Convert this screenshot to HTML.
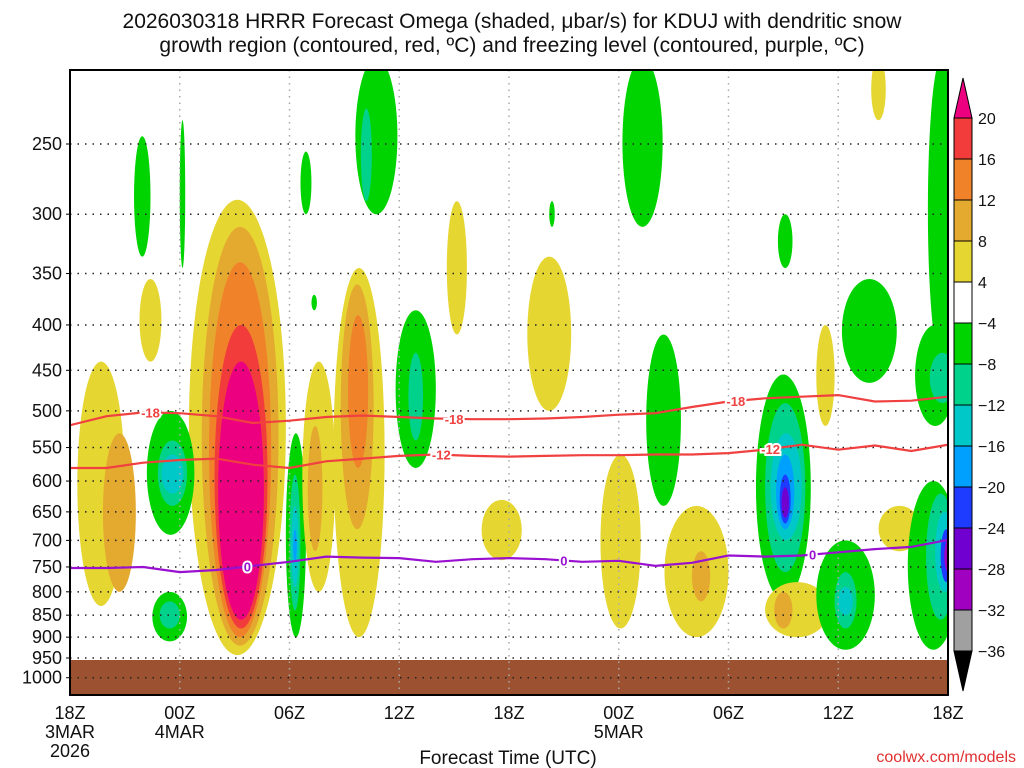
<!DOCTYPE html>
<html><head><meta charset="utf-8">
<style>
body{margin:0;background:#fff;width:1024px;height:768px;overflow:hidden;font-family:"Liberation Sans",sans-serif}
svg{display:block}
</style></head>
<body>
<svg id="chart" width="1024" height="768" xmlns="http://www.w3.org/2000/svg" font-family="Liberation Sans, sans-serif">
<text x="512" y="28" font-size="21" text-anchor="middle" fill="#111">2026030318 HRRR Forecast Omega (shaded, μbar/s) for KDUJ with dendritic snow</text>
<text x="512" y="52" font-size="21" text-anchor="middle" fill="#111">growth region (contoured, red, ºC) and freezing level (contoured, purple, ºC)</text>
<defs><clipPath id="plotclip"><rect x="70" y="70" width="878" height="625"/></clipPath></defs>
<g id="shades" clip-path="url(#plotclip)"></g>
<g id="grid"></g>
<g id="contours" clip-path="url(#plotclip)"></g>
<rect x="70" y="70" width="878" height="625" fill="none" stroke="#000" stroke-width="2"/>
<g id="axes"></g>
<g id="cbar"></g>
<text x="508" y="764" font-size="19" text-anchor="middle" fill="#111">Forecast Time (UTC)</text>
<text x="1016" y="762" font-size="16" text-anchor="end" fill="#e03030">coolwx.com/models</text>
</svg>
<script>
// ---- data ----
const pressureTicks=[250,300,350,400,450,500,550,600,650,700,750,800,850,900,950,1000];
const timeTickHours=[0,6,12,18,24,30,36,42,48];
const timeTickLabels=["18Z","00Z","06Z","12Z","18Z","00Z","06Z","12Z","18Z"];
const dateLabels=[[0,"3MAR"],[0,"2026"],[6,"4MAR"],[30,"5MAR"]];
const cbarLevels=[20,16,12,8,4,-4,-8,-12,-16,-20,-24,-28,-32,-36];
const contourHours=[0,2,4,6,8,10,12,14,16,18,20,22,24,26,28,30,32,34,36,38,40,42,44,46,48];
const tempMinus18=[519,507,502,503,507,516,513,508,506,508,510,511,511,510,508,505,503,495,488,484,482,480,488,487,482];
const tempMinus12=[580,580,572,568,566,575,580,570,566,562,560,562,563,562,561,561,560,560,558,553,546,553,547,555,546];
const freezingLevel=[752,752,750,760,756,748,740,730,732,733,740,735,733,735,740,738,748,742,728,730,728,722,716,712,699];
const labelsMinus18=[4.4,21,36.4];
const labelsMinus12=[20.3,38.3];
const labelsZero=[9.7,27,40.6];
// blobs: start hour, end hour, top pressure, bottom pressure, omega level
const blobH0=[6.5,7.2,7.6,7.9,8.1, 0.4,1.8,3.8,4.2,4.8,5.0,4.5,4.9,3.5,6.0, 11.8,12.0,12.1,12.2, 12.7,14.4,14.8,15.2,13.0, 15.6,15.9,12.6,13.2, 17.8,18.5, 20.6,25.0,22.5,26.2, 30.2,29.0,31.5,32.5,34.0, 37.5,38.0,38.3,38.6,38.8,38.9, 38.7,40.8,38.0,38.5, 40.8,41.8,42.0, 42.2,43.8,44.2, 46.9,45.8,46.8,47.3,47.6,47.8,46.2,47.0];
const blobH1=[11.8,11.4,11.0,10.8,10.6, 3.0,3.6,5.0,6.8,6.4,6.2,6.4,6.0,4.4,6.3, 12.9,12.6,12.5,12.4, 14.5,17.2,16.6,16.3,13.8, 17.9,16.5,13.2,13.5, 20.0,19.3, 21.7,27.4,24.7,26.5, 32.4,31.2,33.4,36.0,35.0, 40.5,40.2,40.0,39.6,39.4,39.3, 39.5,41.8,41.5,39.5, 44.0,43.0,42.8, 45.2,44.6,46.5, 48.4,48.6,48.4,48.3,48.2,48.2,48.4,48.4];
const blobPTop=[289,310,340,400,440, 440,530,355,500,540,560,800,820,245,235, 530,590,640,680, 440,345,360,390,520, 200,228,255,370, 385,430, 290,335,630,290, 200,560,410,640,720, 455,490,530,560,590,610, 300,400,780,800, 700,760,790, 355,200,640, 200,600,620,650,680,700,400,430];
const blobPBot=[943,920,900,880,860, 830,800,440,690,640,620,910,880,335,345, 900,840,790,740, 800,900,680,580,720, 300,290,300,385, 580,540, 410,500,737,310, 310,880,640,900,820, 817,760,700,680,670,660, 345,520,900,880, 930,880,850, 465,235,720, 440,930,860,800,780,760,520,490];
const blobLevel=[4,8,12,16,20, 4,8,4,-4,-8,-12,-4,-8,-4,-4, -4,-8,-12,-16, 4,4,8,12,8, -4,-8,-4,-4, -4,-8, 4,4,4,-4, -4,4,-4,4,8, -4,-8,-12,-16,-20,-24, -4,4,4,8, -4,-8,-12, -4,4,4, -4,-4,-8,-12,-20,-28,-4,-8];

// ---- scales ----
const X0=70,X1=948,Y0=144,PY=385;
const xS=h=>X0+(X1-X0)*h/48;
const yS=p=>Y0+PY*Math.log(p/250);
const colorFor=v=>({20:"#ec0080",16:"#f23c3c",12:"#f0822a",8:"#e4aa30",4:"#e6d632",
 "-4":"#00d400","-8":"#00d28c","-12":"#00c8c8","-16":"#00a0ff","-20":"#1e3cff","-24":"#7000d0","-28":"#a000c0","-32":"#a0a0a0"})[v];
const NS="http://www.w3.org/2000/svg";
function mk(tag,attrs,parent){const e=document.createElementNS(NS,tag);for(const k in attrs)e.setAttribute(k,attrs[k]);parent.appendChild(e);return e;}

// shading
const shades=document.getElementById('shades');
for(let i=0;i<blobH0.length;i++){
  const xa=xS(blobH0[i]),xb=xS(blobH1[i]),ya=yS(blobPTop[i]),yb=yS(blobPBot[i]);
  const e=mk('ellipse',{cx:(xa+xb)/2,cy:(ya+yb)/2,rx:(xb-xa)/2,ry:(yb-ya)/2,fill:colorFor(blobLevel[i])},shades);
  
  
}
// ground
const ground=mk('rect',{x:X0,y:yS(955),width:X1-X0,height:695-yS(955),fill:"#9c5230"},shades);



// grid
const grid=document.getElementById('grid');
pressureTicks.forEach(p=>{
  const l=mk('line',{x1:X0,x2:X1,y1:yS(p),y2:yS(p),stroke:"#222","stroke-width":1.5,"stroke-dasharray":"1.5 6"},grid);
  
  
});
timeTickHours.slice(1,-1).forEach(h=>{
  const l=mk('line',{x1:xS(h),x2:xS(h),y1:70,y2:695,stroke:"#aaa","stroke-width":1.5,"stroke-dasharray":"1.5 5"},grid);
  
  
});

// contours
const cont=document.getElementById('contours');
function drawLine(vals,color,name,labels,txt){
  const d=contourHours.map((h,i)=>(i?'L':'M')+xS(h).toFixed(1)+' '+yS(vals[i]).toFixed(1)).join(' ');
  const p=mk('path',{d:d,fill:"none",stroke:color,"stroke-width":2.2},cont);
  
  
  labels.forEach(h=>{
    let j=0;while(j<contourHours.length-2&&contourHours[j+1]<h)j++;
    const f=(h-contourHours[j])/(contourHours[j+1]-contourHours[j]);
    const pv=vals[j]+(vals[j+1]-vals[j])*f;
    const t=mk('text',{x:xS(h),y:yS(pv)+5,"font-size":13,"font-weight":"bold","text-anchor":"middle",fill:color,stroke:"#fff","stroke-width":4,"paint-order":"stroke"},cont);
    t.textContent=txt;
    
    
  });
}
drawLine(tempMinus18,"#f04040","contour-minus18",labelsMinus18,"-18");
drawLine(tempMinus12,"#f04040","contour-minus12",labelsMinus12,"-12");
drawLine(freezingLevel,"#9a10d0","freezing-level-contour",labelsZero,"0");

// axes
const axes=document.getElementById('axes');
pressureTicks.forEach(p=>{
  const t=mk('text',{x:62,y:yS(p)+6,"font-size":18,"text-anchor":"end",fill:"#111"},axes);
  t.textContent=p;
  
  
  mk('line',{x1:X0-4,x2:X0,y1:yS(p),y2:yS(p),stroke:"#000"},axes);
});
timeTickHours.forEach((h,i)=>{
  const t=mk('text',{x:xS(h),y:719,"font-size":18,"text-anchor":"middle",fill:"#111"},axes);
  t.textContent=timeTickLabels[i];
  
  
});
dateLabels.forEach((d,i)=>{
  const row=(i===1)?2:1;
  const t=mk('text',{x:xS(d[0]),y:719+19*row,"font-size":18,"text-anchor":"middle",fill:"#111"},axes);
  t.textContent=d[1];
  
  
});

// colorbar
const cb=document.getElementById('cbar');
const CB0=118,CBS=41,CX=954,CW=18;
const bandVals=[16,12,8,4,null,-4,-8,-12,-16,-20,-24,-28,-32];
const tri1=mk('path',{d:`M${CX} ${CB0} L${CX+CW/2} 78 L${CX+CW} ${CB0} Z`,fill:"#ec0080",stroke:"#000","stroke-width":1},cb);


bandVals.forEach((v,i)=>{
  const r=mk('rect',{x:CX,y:CB0+i*CBS,width:CW,height:CBS,fill:v===null?"#fff":colorFor(v),stroke:"#000","stroke-width":1},cb);
  
  
});
const yb=CB0+bandVals.length*CBS;
const tri2=mk('path',{d:`M${CX} ${yb} L${CX+CW/2} ${yb+40} L${CX+CW} ${yb} Z`,fill:"#000",stroke:"#000"},cb);


cbarLevels.forEach((v,i)=>{
  const t=mk('text',{x:978,y:CB0+i*CBS+6,"font-size":16,fill:"#111"},cb);
  t.textContent=v<0?'\u2212'+(-v):String(v);
  
  
});
</script>
</body></html>
